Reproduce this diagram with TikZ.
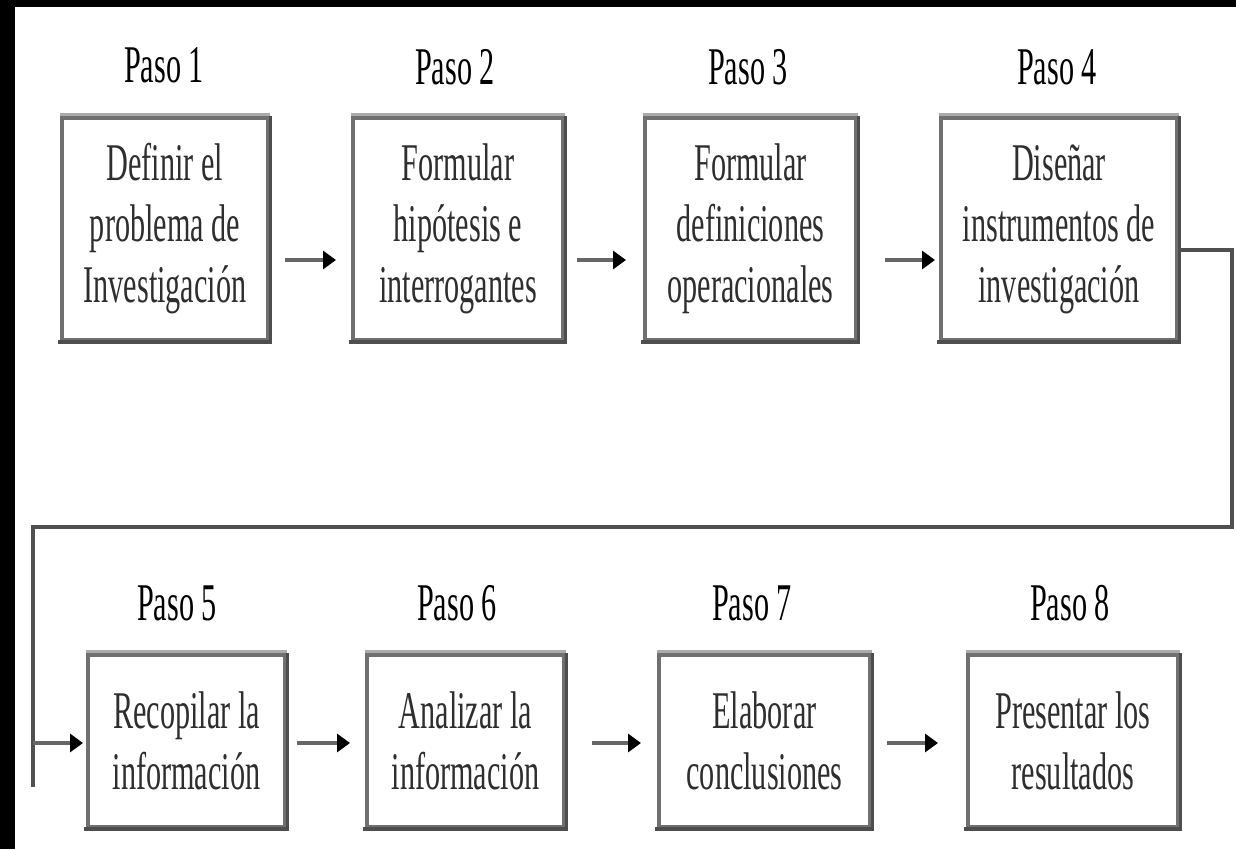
\documentclass[tikz,border=0pt]{standalone}
\usepackage{fontspec}
\newfontfamily\condfont{Liberation Serif}[FakeStretch=0.57]
\usetikzlibrary{arrows.meta}
\definecolor{boxgray}{HTML}{707070}
\definecolor{toplight}{HTML}{ABABAB}
\definecolor{botdark}{HTML}{4E4E4E}
\definecolor{linegray}{HTML}{505050}
\definecolor{shaftgray}{HTML}{666666}
\definecolor{txtgray}{HTML}{2E2E2E}
\begin{document}
\begin{tikzpicture}[x=1pt,y=-1pt,
  stepbox/.style={draw=boxgray, line width=4pt, fill=white, inner sep=0pt, align=center,
    font=\condfont\fontsize{53}{61}\selectfont, text=txtgray},
  paso/.style={font=\condfont\fontsize{53}{61}\selectfont, text=black, inner sep=0pt},
  flow/.style={draw=shaftgray, line width=4pt, -{Triangle[length=13pt,width=18pt,color=black]}},
  conn/.style={draw=linegray, line width=4pt},
]
\fill[white] (0,0) rectangle (1236,849);
\useasboundingbox (0,0) rectangle (1236,849);
\fill[black] (0,0) rectangle (15,849);
\fill[black] (0,0) rectangle (1236,7);

% top row
\node[stepbox, minimum width=206pt, minimum height=222pt] (B1) at (165,229) {Definir el\\problema de\\Investigación};
\node[stepbox, minimum width=210pt, minimum height=222pt] (B2) at (458,229) {Formular\\hipótesis e\\interrogantes};
\node[stepbox, minimum width=211pt, minimum height=222pt] (B3) at (750.5,229) {Formular\\definiciones\\operacionales};
\node[stepbox, minimum width=236pt, minimum height=222pt] (B4) at (1059,229) {Diseñar\\instrumentos de\\investigación};
% bottom row
\node[stepbox, minimum width=197pt, minimum height=172pt] (B5) at (186.5,741) {Recopilar la\\información};
\node[stepbox, minimum width=197pt, minimum height=172pt] (B6) at (465.5,741) {Analizar la\\información};
\node[stepbox, minimum width=211pt, minimum height=172pt] (B7) at (764.5,741) {Elaborar\\conclusiones};
\node[stepbox, minimum width=210pt, minimum height=172pt] (B8) at (1073,741) {Presentar los\\resultados};

\foreach \n in {B1,B2,B3,B4,B5,B6,B7,B8}{
  \draw[toplight, line width=2.5pt] ([yshift=1.5pt]\n.north west) -- ([yshift=1.5pt]\n.north east);
  \draw[botdark, line width=4pt] ([xshift=-2pt]\n.south west) -- ([xshift=2pt]\n.south east);
  \draw[botdark, line width=3pt] (\n.north east) -- (\n.south east);
}

% labels
\node[paso] (P1) at (164,65) {Paso 1};
\node[paso] (P2) at (455,67) {Paso 2};
\node[paso] (P3) at (748,67) {Paso 3};
\node[paso] (P4) at (1057,67) {Paso 4};
\node[paso] (P5) at (177,603) {Paso 5};
\node[paso] (P6) at (457,603) {Paso 6};
\node[paso] (P7) at (752,603) {Paso 7};
\node[paso] (P8) at (1070,603) {Paso 8};

% arrows
\draw[flow, shorten <=15pt, shorten >=15pt] ([yshift=-31pt]B1.east) -- ([yshift=-31pt]B2.west);
\draw[flow, shorten <=12pt, shorten >=17pt] ([yshift=-31pt]B2.east) -- ([yshift=-31pt]B3.west);
\draw[flow, shorten <=27pt, shorten >=4pt] ([yshift=-31pt]B3.east) -- ([yshift=-31pt]B4.west);
\draw[flow, shorten <=10pt, shorten >=15pt] ([yshift=-2pt]B5.east) -- ([yshift=-2pt]B6.west);
\draw[flow, shorten <=26pt, shorten >=16pt] ([yshift=-2pt]B6.east) -- ([yshift=-2pt]B7.west);
\draw[flow, shorten <=15pt, shorten >=28pt] ([yshift=-2pt]B7.east) -- ([yshift=-2pt]B8.west);

% return connector
\coordinate (c1) at (1232,250);
\coordinate (c2) at (1232,527);
\coordinate (c3) at (33,527);
\coordinate (c4) at (33,787);
\coordinate (c5) at (33,743);
\draw[conn] ([yshift=-21pt]B4.east) -- (c1) -- (c2) -- (c3) -- (c4);
\draw[flow, shorten >=3pt] (c5) -- (c5 -| B5.west);
\end{tikzpicture}
\end{document}
